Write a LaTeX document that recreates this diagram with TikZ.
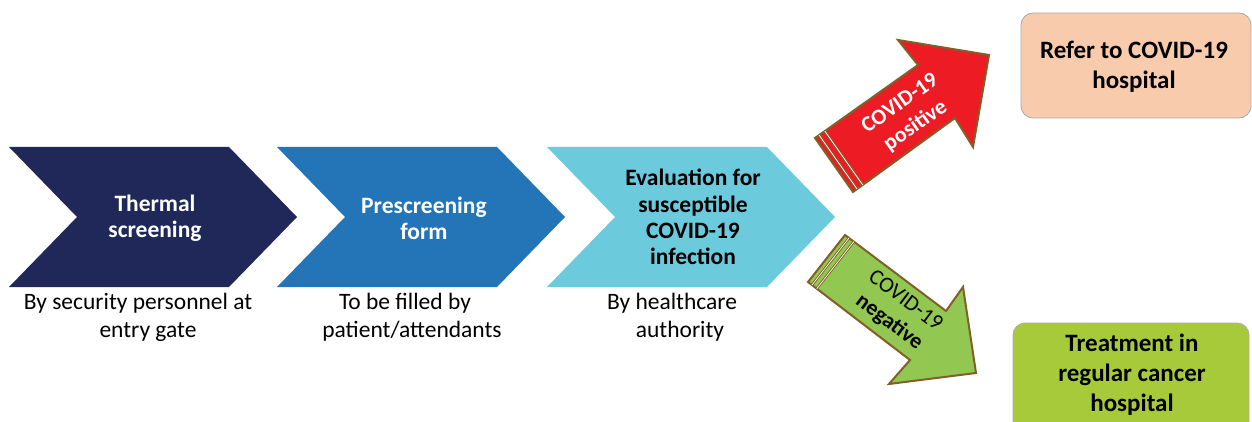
\documentclass[tikz,border=0pt]{standalone}
\usepackage{fontspec}
\setmainfont{Carlito}
\definecolor{navy}{RGB}{31,40,89}
\definecolor{midblue}{RGB}{36,116,184}
\definecolor{cyanish}{RGB}{107,203,220}
\definecolor{posred}{RGB}{237,28,36}
\definecolor{neggreen}{RGB}{146,200,81}
\definecolor{arrbrown}{RGB}{128,96,40}
\definecolor{peach}{RGB}{248,203,173}
\definecolor{lime}{RGB}{167,202,58}
\definecolor{boxgray}{RGB}{170,170,170}
\begin{document}
\begin{tikzpicture}[x=1pt,y=-1pt,
  steptext/.style={font=\fontsize{23.5}{26.3}\selectfont\bfseries, align=center, inner sep=0pt},
  sublabel/.style={font=\fontsize{23.5}{28}\selectfont, align=center, inner sep=0pt},
  arrowtext/.style={font=\fontsize{22}{27}\selectfont, align=center, inner sep=0pt},
  boxtext/.style={font=\fontsize{25}{30}\selectfont\bfseries, align=center, inner sep=0pt},
  blockarrow/.style={draw=arrbrown, line width=2pt, line join=miter},
  stripe/.style={draw=arrbrown, double=white, double distance=0.7pt, line width=0.9pt},
  hospbox/.style={draw=boxgray, line width=0.8pt, rounded corners=12pt}
]
\useasboundingbox (0,0) rectangle (1252,422);

% chevrons
\fill[navy, shift={(9,147)}] (0,0) -- (220,0) -- (288,70) -- (220,140) -- (0,140) -- (68,70) -- cycle;
\fill[midblue, shift={(277,147)}] (0,0) -- (220,0) -- (288,70) -- (220,140) -- (0,140) -- (68,70) -- cycle;
\fill[cyanish, shift={(547,147)}] (0,0) -- (220,0) -- (288,70) -- (220,140) -- (0,140) -- (68,70) -- cycle;

\node[steptext, text=white] (s1) at (155,218) {Thermal\\screening};
\node[steptext, text=white] (s2) at (424,218) {Prescreening\\form};
\node[steptext] (s3) at (693,217) {Evaluation for\\susceptible\\COVID-19\\infection};

\node[sublabel] (l1) at (148,317) {By security personnel at\hspace*{20pt}\\entry gate};
\node[sublabel] (l2) at (412,317) {To be filled by\hspace*{14pt}\\patient/attendants};
\node[sublabel] (l3) at (680,317) {By healthcare\hspace*{16pt}\\authority};

% positive arrow
\path[blockarrow, fill=posred] (853,192) -- (815,138) -- (918,65) -- (898,40) -- (989,55) -- (973,147) -- (955,118) -- cycle;
\foreach \d in {5,12} {
  \draw[stripe, shift={({0.816*\d},{-0.579*\d})}] (815,138) -- (853,192);
}
\node[arrowtext, text=white, font=\fontsize{22}{27}\selectfont\bfseries, rotate=35] (pos) at (908,115) {COVID-19\\positive};

% negative arrow
\path[blockarrow, fill=neggreen] (808,282) -- (845,235) -- (946,311) -- (963,287) -- (976,373) -- (889,384) -- (910,360) -- cycle;
\foreach \d in {5,11} {
  \draw[stripe, shift={({0.795*\d},{0.609*\d})}] (808,282) -- (845,235);
}
\node[arrowtext, rotate=-37] (neg) at (897,312) {COVID-19\\\textbf{negative}};

% outcome boxes
\node[hospbox, fill=peach, minimum width=230pt, minimum height=105pt] (refer) at (1136,65.5) {};
\node[boxtext] (refertxt) at (1134,67) {Refer to COVID-19\\hospital};
\path[hospbox, fill=lime] (1013,323) rectangle (1249,450);
\node[boxtext] (treat) at (1132,375) {Treatment in\\regular cancer\\hospital};
\end{tikzpicture}
\end{document}
